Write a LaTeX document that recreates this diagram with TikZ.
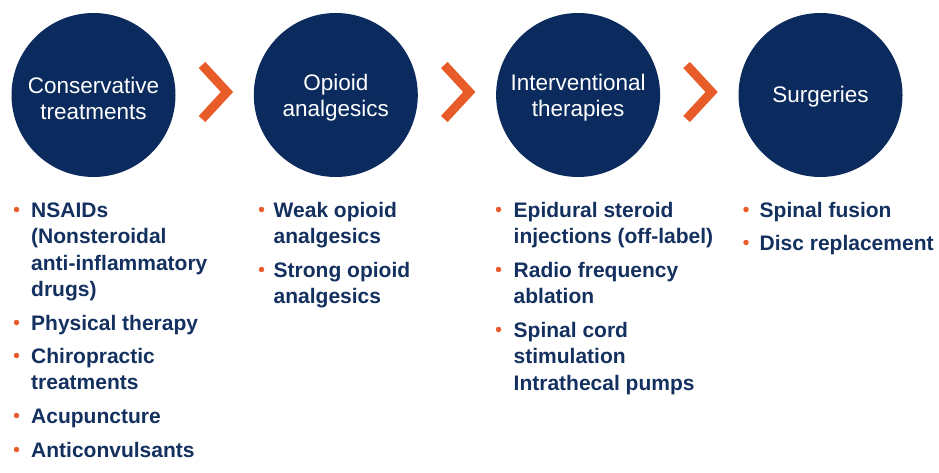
\documentclass[tikz,border=0pt]{standalone}
\usepackage{fontspec}
\setmainfont{Liberation Sans}
\definecolor{navy}{HTML}{0B2B5E}
\definecolor{txtnavy}{HTML}{13305F}
\definecolor{orng}{HTML}{E85C2A}
\begin{document}
\begin{tikzpicture}[x=1pt,y=-1pt,
  stage/.style={circle, fill=navy, minimum size=164pt, inner sep=0pt},
  stagelabel/.style={inner sep=0pt, text=white, align=center, font=\fontsize{22.5}{26}\selectfont},
  chev/.style={draw=orng, line width=9pt, miter limit=10, line join=miter, line cap=butt},
  item/.style={anchor=base west, inner sep=0pt, text=txtnavy, font=\fontsize{21}{26}\selectfont\bfseries},
  dot/.style={circle, fill=orng, inner sep=0pt, minimum size=5.5pt}]
\useasboundingbox (0,0) rectangle (939,473);
% circles
\node[stage] (c1) at (93.5,95) {};
\node[stage] (c2) at (335.8,95) {};
\node[stage] (c3) at (578.1,95) {};
\node[stage] (c4) at (820.5,95) {};
\node[stagelabel] (l1) at ([yshift=-3pt]c1.center) {Conservative\\treatments};
\node[stagelabel] (l2) at ([yshift=-3pt]c2.center) {Opioid\\analgesics};
\node[stagelabel] (l3) at ([yshift=-3pt]c3.center) {Interventional\\therapies};
\node[stagelabel] (l4) at ([yshift=-2pt]c4.center) {Surgeries};
% chevrons
\foreach \i/\t in {1/227,2/469.3,3/711.6}{
  \coordinate (ch\i a) at (\t-25,65);
  \coordinate (ch\i b) at (\t,92);
  \coordinate (ch\i c) at (\t-25,119);
  \draw[chev] (ch\i a) -- (ch\i b) -- (ch\i c);
}
% column 1
\node[dot] (b11) at (16.5,209.5) {};
\node[item] (t11) at (31,217) {NSAIDs};
\node[item] (t12) at (31,243.5) {(Nonsteroidal};
\node[item] (t13) at (31,270) {anti-inflammatory};
\node[item] (t14) at (31,296.5) {drugs)};
\node[dot] (b12) at (16.5,322.5) {};
\node[item] (t15) at (31,330) {Physical therapy};
\node[dot] (b13) at (16.5,355.5) {};
\node[item] (t16) at (31,363) {Chiropractic};
\node[item] (t17) at (31,389.5) {treatments};
\node[dot] (b14) at (16.5,415.5) {};
\node[item] (t18) at (31,423) {Acupuncture};
\node[dot] (b15) at (16.5,449.5) {};
\node[item] (t19) at (31,457) {Anticonvulsants};
% column 2
\node[dot] (b21) at (261.5,209.5) {};
\node[item] (t21) at (273.5,217) {Weak opioid};
\node[item] (t22) at (273.5,243.5) {analgesics};
\node[dot] (b22) at (261.5,269.5) {};
\node[item] (t23) at (273.5,277) {Strong opioid};
\node[item] (t24) at (273.5,303.5) {analgesics};
% column 3
\node[dot] (b31) at (498.5,209.5) {};
\node[item] (t31) at (513.5,217) {Epidural steroid};
\node[item] (t32) at (513.5,243.5) {injections (off-label)};
\node[dot] (b32) at (498.5,269.5) {};
\node[item] (t33) at (513.5,277) {Radio frequency};
\node[item] (t34) at (513.5,303.5) {ablation};
\node[dot] (b33) at (498.5,329.5) {};
\node[item] (t35) at (513.5,337) {Spinal cord};
\node[item] (t36) at (513.5,363.5) {stimulation};
\node[item] (t37) at (513.5,390) {Intrathecal pumps};
% column 4
\node[dot] (b41) at (746,209.5) {};
\node[item] (t41) at (759.5,217) {Spinal fusion};
\node[dot] (b42) at (746,242.5) {};
\node[item] (t42) at (759.5,250) {Disc replacement};
\end{tikzpicture}
\end{document}
